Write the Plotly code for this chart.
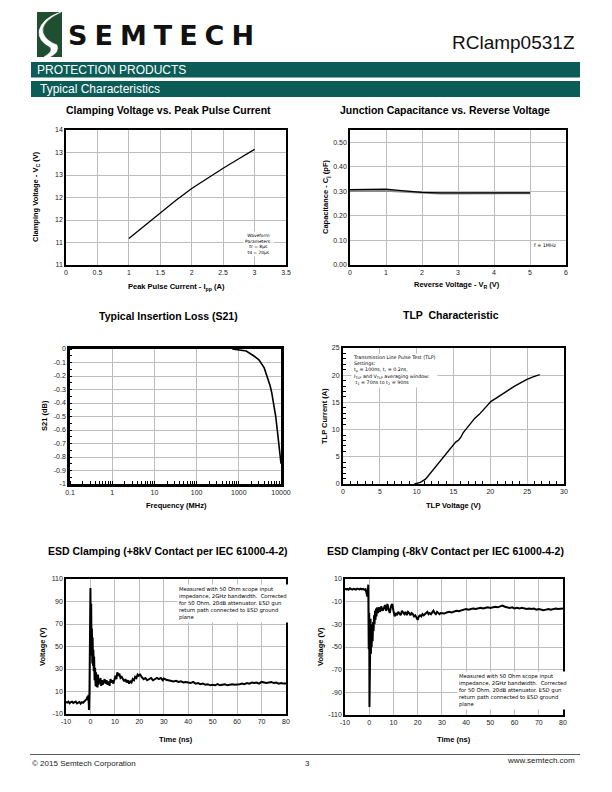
import plotly.graph_objects as go

# ---------------- data ----------------
ipp_current = [1, 1.25, 1.5, 1.75, 2, 2.25, 2.5, 2.75, 3]
clamp_voltage = [11.59, 11.88, 12.16, 12.44, 12.70, 12.93, 13.15, 13.36, 13.57]

rev_voltage = [0, 0.5, 1, 1.5, 2, 2.5, 3, 3.5, 4, 4.5, 5]
cap_black = [0.307, 0.309, 0.309, 0.302, 0.296, 0.294, 0.293, 0.293, 0.294, 0.294, 0.294]
cap_gray = [0.302, 0.303, 0.303, 0.299, 0.294, 0.292, 0.292, 0.292, 0.293, 0.293, 0.293]

freq_mhz = [700, 1000, 1500, 2240, 3000, 4000, 4700, 5500, 6000, 6700, 7500, 8300, 9000, 9600, 10000]
s21_db = [0, -0.005, -0.015, -0.05, -0.08, -0.14, -0.2, -0.27, -0.32, -0.4, -0.5, -0.62, -0.71, -0.8, -0.85]

tlp_voltage = [9.7, 10.5, 11.2, 11.8, 12.4, 13.1, 13.8, 14.4, 15.0, 15.3, 15.7, 16.0, 16.3, 16.8,
               17.3, 17.9, 18.5, 19.2, 20.1, 20.8, 21.7, 22.5, 23.3, 24.1, 24.9, 25.8, 26.7]
tlp_current = [0, 0.3, 0.9, 1.9, 2.9, 4.2, 5.4, 6.4, 7.4, 7.7, 8.1, 8.6, 9.4, 10.3,
               11.0, 12.1, 12.8, 13.9, 15.2, 15.8, 16.6, 17.4, 18.0, 18.6, 19.2, 19.7, 20.1]

esd_pos_t = ([-10, -9.5, -9, -8.5, -8, -7.5, -7, -6.5, -6, -5.5, -5, -4.5, -4, -3.5, -3, -2.5, -2, -1.5]
             + [-1.2, -1.0, -0.8, -0.6, -0.4, -0.2, 0.0, 0.15, 0.3, 0.45, 0.6, 0.75, 0.9, 1.05, 1.2, 1.35,
                1.5, 1.7, 1.9, 2.1, 2.3, 2.5, 2.7, 2.9, 3.1, 3.3, 3.5]
             + [3.8, 4.1, 4.4, 4.7, 5.0, 5.4, 5.8, 6.2, 6.6, 7.0, 7.4, 7.8, 8.2, 8.6, 9.0, 9.4, 9.8, 10.2,
                10.6, 11.0, 11.4, 11.8, 12.3, 12.8, 13.3, 13.8, 14.3, 14.8, 15.3, 15.8, 16.3, 16.8, 17.3,
                17.8, 18.3, 18.8, 19.3, 19.8, 20.3, 20.8, 21.3, 21.8, 22.5, 23.2, 24.0, 24.8, 25.6, 26.4,
                27.2, 28.0, 28.8, 29.6]
             + list(range(30, 81)))
esd_pos_v = ([0.8, 0.2, 1.0, -0.4, 0.6, 0.9, -0.2, 0.4, 1.1, -0.6, 0.3, 0.7, -0.8, 0.5, 0.0, 1.3, 2.2, 3.5]
             + [5.5, 2, 7, -6.5, 9, 40, 102, 55, 88, 42, 66, 35, 58, 33, 47, 28, 41,
                20, 31, 15, 27, 14, 24, 13.5, 25, 16, 21]
             + [17, 22, 15, 20, 16, 19, 21, 17, 20, 16, 19, 15, 21, 18, 20, 17, 22, 24, 21, 27, 24, 26,
                22, 23, 21, 19, 21, 18, 20, 17, 19, 18, 21, 20, 23, 22, 25, 24, 25, 23, 22, 21,
                22, 20, 21, 22, 20, 21, 22, 21, 22, 20]
             + [21.5, 20.5, 20, 19.5, 19, 19.5, 18.5, 19, 18, 18.5,
                18, 17.5, 18.5, 17, 17.5, 16.5, 17, 16, 16.5, 15.5,
                16, 15.5, 16.5, 15.5, 16, 16.5, 15.5, 16, 16.5, 16,
                16, 16.5, 17, 16.5, 17.5, 17, 18, 17.5, 18, 17,
                18.5, 18, 17.5, 18, 18.5, 17.5, 18, 17, 17.5, 17, 17])

esd_neg_t = ([-10, -9.5, -9, -8.5, -8, -7.5, -7, -6.5, -6, -5.5, -5, -4.5, -4, -3.5, -3, -2.5, -2, -1.5]
             + [-1.2, -1.0, -0.8, -0.6, -0.4, -0.2, 0.0, 0.1, 0.25, 0.4, 0.55, 0.7, 0.85, 1.0, 1.2, 1.4,
                1.6, 1.8, 2.0, 2.2, 2.4, 2.6, 2.8, 3.0, 3.3, 3.6]
             + [4.0, 4.5, 5.0, 5.5, 6.0, 6.5, 7.0, 7.5, 8.0, 8.5, 9.0, 9.5, 10.0, 10.5, 11.0, 11.5, 12.0,
                12.5, 13.0, 13.5, 14.0, 14.5, 15.0, 15.5, 16.0, 16.5, 17.0, 17.5, 18.0, 18.5, 19.0, 19.5,
                20.0, 20.5, 21.0, 21.5, 22.0, 22.5, 23.0, 23.5, 24.0, 24.5, 25.0, 25.5, 26.0, 26.5, 27.0,
                27.5, 28.0, 28.5, 29.0, 29.5]
             + list(range(30, 81)))
esd_neg_v = ([1.5, 0.8, 1.2, 0.5, 1.8, 1.0, 0.6, 1.4, 1.1, 0.7, 1.6, 1.2, 0.8, 1.5, 0.9, 1.3, 0.4, 1.0]
             + [-1, -3, -5.5, -2, 5, -52, -20, -103, -35, -62, -25, -56, -30, -50, -33, -45,
                -28, -36, -22, -30, -18, -26, -16, -23, -15, -20]
             + [-15, -19, -14, -18, -16, -13, -18, -12, -17, -20, -14, -12, -18, -23, -20, -22, -19,
                -21, -22, -18, -20, -21, -19, -22, -19, -20, -22, -20, -21, -23, -22, -24,
                -26, -23, -22, -23, -21, -22, -21, -20, -19, -21, -20, -21, -19, -18, -20,
                -21, -19, -20, -21, -20]
             + [-20, -20.5, -19.5, -19, -19.5, -18.5, -18, -18.5, -17.5, -17,
                -16.5, -17, -16.5, -16, -16.5, -16, -15.5, -16, -15.5, -15,
                -15.5, -15, -14.5, -15, -14, -13.5, -14.5, -15, -15.5, -15,
                -16, -15.5, -16, -15.5, -16, -16.5, -16, -16.5, -16, -17,
                -16.5, -17, -17.5, -17, -16.5, -17, -16.5, -16, -16.5, -16, -16])

clamp_x_ticks = [0, 0.5, 1, 1.5, 2, 2.5, 3, 3.5]
clamp_x_labels = ["0", "0.5", "1", "1.5", "2", "2.5", "3", "3.5"]
clamp_y_ticks = [11, 11.5, 12, 12.5, 13, 13.5, 14]
clamp_y_labels = ["11", "11", "12", "12", "13", "13", "14"]
cap_y_ticks = [0, 0.1, 0.2, 0.3, 0.4, 0.5]
cap_y_labels = ["0.00", "0.10", "0.20", "0.30", "0.40", "0.50"]
freq_ticks = [0.1, 1, 10, 100, 1000, 10000]
freq_labels = ["0.1", "1", "10", "100", "1000", "10000"]
s21_ticks = [0, -0.1, -0.2, -0.3, -0.4, -0.5, -0.6, -0.7, -0.8, -0.9, -1]
s21_labels = ["0", "-0.1", "-0.2", "-0.3", "-0.4", "-0.5", "-0.6", "-0.7", "-0.8", "-0.9", "-1"]
time_ticks = [-10, 0, 10, 20, 30, 40, 50, 60, 70, 80]
time_labels = ["-10", "0", "10", "20", "30", "40", "50", "60", "70", "80"]
esdp_y_ticks = [-10, 10, 30, 50, 70, 90, 110]
esdp_y_labels = ["-10", "10", "30", "50", "70", "90", "110"]
esdn_y_ticks = [-110, -90, -70, -50, -30, -10, 10]
esdn_y_labels = ["-110", "-90", "-70", "-50", "-30", "-10", "10"]

# ---------------- layout helpers ----------------
# the page body has an 8px margin, so the figure covers page pixels 8..612 / 8..792
OFF = 8
W, H = 612 - OFF, 792 - OFF
def fx(p):
    return (p - OFF) / W
def fy(p):
    return 1 - (p - OFF) / H

TEAL = "#0b5c57"
TF = "Liberation Sans Narrow, Liberation Sans, Arial, sans-serif"
BF = "Liberation Sans, Arial, sans-serif"
NF = "DejaVu Sans, sans-serif"

panels = [(66, 286, 130, 265), (350, 566, 130, 265), (70, 281, 349, 484),
          (343, 564, 348, 484), (66, 286, 579, 714), (345, 563, 579, 715)]

fig = go.Figure()

def ref(i):
    return ("x", "y") if i == 0 else (f"x{i+1}", f"y{i+1}")

series = [
    (0, ipp_current, clamp_voltage, "black", 1.3),
    (1, rev_voltage, cap_gray, "#8a8a8a", 2.2),
    (1, rev_voltage, cap_black, "black", 1.1),
    (2, freq_mhz, s21_db, "black", 1.6),
    (3, tlp_voltage, tlp_current, "black", 1.4),
    (4, esd_pos_t, esd_pos_v, "black", 2.0),
    (5, esd_neg_t, esd_neg_v, "black", 2.0),
]
for i, xs, ys, col, w in series:
    xr, yr = ref(i)
    fig.add_trace(go.Scatter(x=xs, y=ys, xaxis=xr, yaxis=yr, mode="lines",
                             line=dict(color=col, width=w), showlegend=False,
                             hoverinfo="skip"))

common = dict(showgrid=True, gridcolor="#bdbdbd", gridwidth=1, showline=True, mirror=True,
              linecolor="black", linewidth=1.5, zeroline=False, ticks="", automargin=False,
              tickfont=dict(size=7, color="#222", family=BF), fixedrange=True)

axcfg = {
    0: (dict(range=[0, 3.5], tickvals=clamp_x_ticks, ticktext=clamp_x_labels),
        dict(range=[11, 14], tickvals=clamp_y_ticks, ticktext=clamp_y_labels)),
    1: (dict(range=[0, 6], dtick=1, tick0=0),
        dict(range=[0, 0.55], tickvals=cap_y_ticks, ticktext=cap_y_labels)),
    2: (dict(type="log", range=[-1, 4], tickvals=freq_ticks, ticktext=freq_labels, linewidth=2.5,
             minor=dict(ticks="inside", ticklen=3, tickcolor="black", dtick="D1", showgrid=False)),
        dict(range=[-1, 0], tickvals=s21_ticks, ticktext=s21_labels, linewidth=2.5,
             minor=dict(ticks="inside", ticklen=2, tickcolor="black", dtick=0.05, showgrid=False))),
    3: (dict(range=[0, 30], dtick=5, tick0=0, linewidth=2,
             minor=dict(ticks="inside", ticklen=3, tickcolor="black", dtick=1, showgrid=False)),
        dict(range=[0, 25], dtick=5, tick0=0, linewidth=2,
             minor=dict(ticks="inside", ticklen=3, tickcolor="black", dtick=1, showgrid=False))),
    4: (dict(range=[-10, 80], tickvals=time_ticks, ticktext=time_labels),
        dict(range=[-10, 110], tickvals=esdp_y_ticks, ticktext=esdp_y_labels)),
    5: (dict(range=[-10, 80], tickvals=time_ticks, ticktext=time_labels),
        dict(range=[-110, 10], tickvals=esdn_y_ticks, ticktext=esdn_y_labels)),
}

layout_axes = {}
for i, (x0, x1, y0, y1) in enumerate(panels):
    xr, yr = ref(i)
    xk = "xaxis" if i == 0 else f"xaxis{i+1}"
    yk = "yaxis" if i == 0 else f"yaxis{i+1}"
    xc, yc = axcfg[i]
    xd = dict(common); xd.update(xc); xd.update(domain=[fx(x0), fx(x1)], anchor=yr)
    yd = dict(common); yd.update(yc); yd.update(domain=[fy(y1), fy(y0)], anchor=xr)
    layout_axes[xk] = xd
    layout_axes[yk] = yd

fig.update_layout(**layout_axes)

ann = []
def text(x, y, t, size, bold=False, xanchor="center", yanchor="middle", color="black",
         family=TF, angle=0, bg=None, align="center"):
    d = dict(x=fx(x), y=fy(y), xref="paper", yref="paper", text=(f"<b>{t}</b>" if bold else t),
             showarrow=False, xanchor=xanchor, yanchor=yanchor, textangle=angle, align=align,
             font=dict(size=size, color=color, family=family))
    if bg:
        d.update(bgcolor=bg, borderpad=1)
    ann.append(d)

# header
text(66, 36, '<span style="letter-spacing:7px">SEMTECH</span>', 27, bold=True, xanchor="left",
     family=NF, color="#111")
text(577, 42, "RClamp0531Z", 19, xanchor="right", family=TF, color="#111")
text(35, 70, "PROTECTION PRODUCTS", 12, xanchor="left", color="white", family=TF)
text(38, 89, "Typical Characteristics", 12, xanchor="left", color="white", family=BF)

# chart titles
TS = 10.5
text(169, 110, "Clamping Voltage vs. Peak Pulse Current", TS, bold=True)
text(445, 110, "Junction Capacitance vs. Reverse Voltage", TS, bold=True)
text(168, 316, "Typical Insertion Loss (S21)", TS, bold=True)
text(451, 315, "TLP  Characteristic", TS, bold=True)
text(168, 551, "ESD Clamping (+8kV Contact per IEC 61000-4-2)", TS, bold=True)
text(445, 551, "ESD Clamping (-8kV Contact per IEC 61000-4-2)", TS, bold=True)

# axis titles
AS = 7.5
text(176, 287, "Peak Pulse Current - I<sub>pp</sub> (A)", AS, bold=True)
text(36, 197, "Clamping Voltage - V<sub>C</sub> (V)", AS, bold=True, angle=-90)
text(457, 285, "Reverse Voltage - V<sub>R</sub> (V)", AS, bold=True)
text(326, 197, "Capacitance - C<sub>j</sub> (pF)", AS, bold=True, angle=-90)
text(176, 505, "Frequency (MHz)", AS, bold=True)
text(44, 416, "S21 (dB)", AS, bold=True, angle=-90)
text(453, 505, "TLP Voltage (V)", AS, bold=True)
text(324, 416, "TLP Current (A)", AS, bold=True, angle=-90)
text(176, 739, "Time (ns)", AS, bold=True)
text(42, 647, "Voltage (V)", AS, bold=True, angle=-90)
text(454, 739, "Time (ns)", AS, bold=True)
text(320, 647, "Voltage (V)", AS, bold=True, angle=-90)

# notes
text(258, 244, "Waveform<br>Parameters:<br>tr = 8\u03bcs<br>td = 20\u03bcs", 4.4, family=NF, bg="white")
text(545, 245, "f = 1MHz", 4.8, family=NF, bg="white")
text(351, 353, "Transmission Line Pulse Test (TLP)<br>Settings:<br>t<sub>p</sub> = 100ns, t<sub>r</sub> = 0.2ns,"
     "<br>I<sub>TLP</sub> and V<sub>TLP</sub> averaging window:<br> t<sub>1</sub> = 70ns to t<sub>2</sub> = 90ns",
     4.8, family=NF, bg="white", xanchor="left", yanchor="top", align="left")
esd_note = ("Measured with 50 Ohm scope input<br>impedance, 2GHz bandwidth.  Corrected<br>"
            "for 50 Ohm, 20dB attenuator. ESD gun<br>return path connected to ESD ground<br>plane")
text(177, 584, esd_note, 5.3, family=NF, bg="white", xanchor="left", yanchor="top", align="left")
text(457, 671, esd_note, 5.3, family=NF, bg="white", xanchor="left", yanchor="top", align="left")

# footer
text(30, 763, "\u00a9 2015 Semtech Corporation", 8, xanchor="left", family=BF, color="#222")
text(307, 763, "3", 8, family=BF, color="#222")
text(577, 760, "www.semtech.com", 8, xanchor="right", family=BF, color="#222")

shapes = [
    dict(type="rect", xref="paper", yref="paper", x0=fx(31), x1=fx(580), y0=fy(77.5), y1=fy(62),
         fillcolor=TEAL, line=dict(width=0), layer="below"),
    dict(type="rect", xref="paper", yref="paper", x0=fx(31), x1=fx(580), y0=fy(97), y1=fy(81),
         fillcolor=TEAL, line=dict(width=0), layer="below"),
    dict(type="line", xref="paper", yref="paper", x0=fx(30), x1=fx(580), y0=fy(754.5), y1=fy(754.5),
         line=dict(color="#333", width=0.8)),
    dict(type="rect", xref="paper", yref="paper", x0=fx(37), x1=fx(62), y0=fy(57), y1=fy(12),
         fillcolor="#1f4f30", line=dict(width=0)),
]
def P(x, y):
    return f"{fx(x):.5f},{fy(y):.5f}"
swoosh = (f"M {P(61,12)} Q {P(40,22)} {P(43,33)} Q {P(46,41)} {P(57,45)} "
          f"Q {P(60,52)} {P(50,57)} L {P(44,57)} Q {P(54,51)} {P(50,47)} "
          f"Q {P(38,41)} {P(39,31)} Q {P(42,18)} {P(61,12)} Z")
shapes.append(dict(type="path", xref="paper", yref="paper", path=swoosh, fillcolor="white",
                   line=dict(color="white", width=0.5)))

fig.update_layout(width=W, height=H, margin=dict(l=0, r=0, t=0, b=0, pad=0, autoexpand=False),
                  paper_bgcolor="white", plot_bgcolor="white",
                  annotations=ann, shapes=shapes, showlegend=False)

fig.write_html("out.html", config={"displayModeBar": False})
